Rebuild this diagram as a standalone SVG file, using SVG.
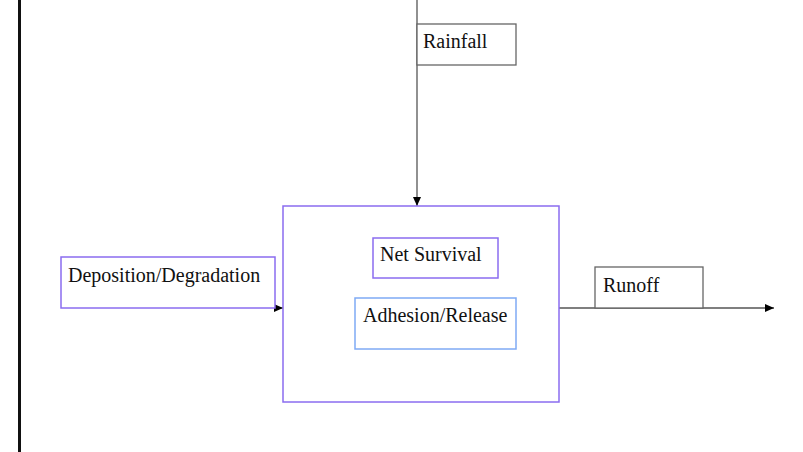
<svg xmlns="http://www.w3.org/2000/svg" width="803" height="452" viewBox="0 0 803 452">
<style>
.t{font-family:"Liberation Serif","Times New Roman",serif;font-size:20px;fill:#111}
.violet{fill:#fff;stroke:#8a6cf0;stroke-width:1.5}
.light{fill:#fff;stroke:#7faaf5;stroke-width:1.5}
.gray{fill:#fff;stroke:#666;stroke-width:1.3}
.ln{stroke:#555;stroke-width:1.3;fill:none}
</style>
<defs>
<marker id="ah" markerWidth="10" markerHeight="10" refX="9" refY="5" orient="auto" markerUnits="userSpaceOnUse">
<path d="M0,1 L9,5 L0,9 Z" fill="#000"/>
</marker>
</defs>
<rect width="803" height="452" fill="#fff"/>
<line x1="19.5" y1="0" x2="19.5" y2="452" stroke="#111" stroke-width="3"/>
<g id="connectors">
<line class="ln" x1="417" y1="0" x2="417" y2="206" marker-end="url(#ah)"/>
<line class="ln" x1="275" y1="308" x2="283" y2="308" stroke="#000" marker-end="url(#ah)"/>
<line class="ln" x1="559" y1="308" x2="774" y2="308" marker-end="url(#ah)"/>
</g>
<g id="rainfall">
<rect class="gray" x="417" y="24" width="99" height="41"/>
<text class="t" x="423" y="48">Rainfall</text>
</g>
<g id="deposition">
<rect class="violet" x="61" y="257" width="214" height="51"/>
<text class="t" x="68" y="282">Deposition/Degradation</text>
</g>
<g id="main">
<rect class="violet" x="283" y="206" width="276" height="196"/>
</g>
<g id="netsurvival">
<rect class="violet" x="373" y="238" width="125" height="40"/>
<text class="t" x="380" y="261">Net Survival</text>
</g>
<g id="adhesion">
<rect class="light" x="355" y="298" width="161" height="51"/>
<text class="t" x="363" y="322">Adhesion/Release</text>
</g>
<g id="runoff">
<rect class="gray" x="595" y="267" width="108" height="41"/>
<text class="t" x="603" y="292">Runoff</text>
</g>
</svg>
